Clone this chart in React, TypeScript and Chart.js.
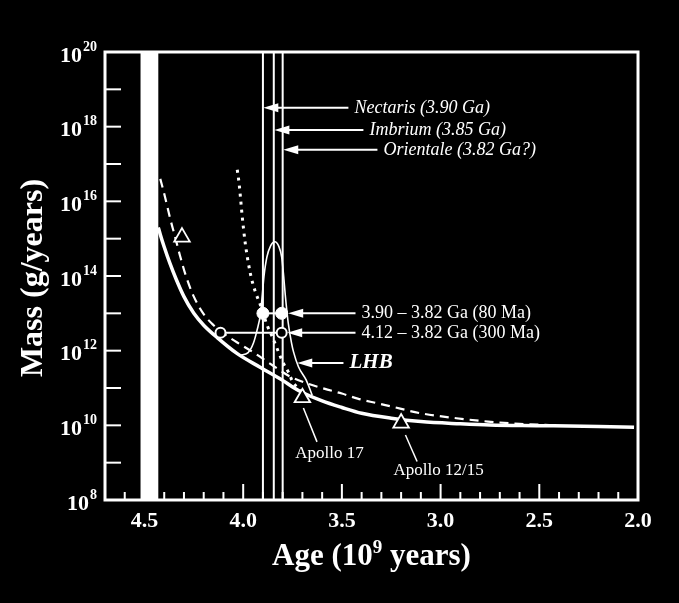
import { useEffect, useRef } from "react";
import { Chart, registerables } from "chart.js";

Chart.register(...registerables);

const W = 679;
const H = 603;
const SERIF = "'Liberation Serif', 'Times New Roman', serif";

// ---- data (age in 10^9 years, mass flux in g/year) ----
const solidAge = [4.43, 4.42, 4.4, 4.37, 4.34, 4.3, 4.25, 4.2, 4.13, 4.03, 3.91, 3.8, 3.75, 3.7, 3.6, 3.5, 3.4, 3.25, 3.1, 2.9, 2.75, 2.5, 2.2, 2.02];
const solidMass = [2.0e15, 1.3e15, 6.0e14, 2.1e14, 8.3e13, 2.8e13, 1.0e13, 4.8e12, 2.2e12, 8.3e11, 3.5e11, 1.6e11, 1.07e11, 7.6e10, 4.5e10, 3.0e10, 2.1e10, 1.55e10, 1.26e10, 1.1e10, 1.02e10, 9.8e9, 9.3e9, 8.9e9];

const dashedAge = [4.42, 4.4, 4.37, 4.35, 4.32, 4.29, 4.25, 4.2, 4.15, 4.1, 4.03, 3.95, 3.85, 3.76, 3.68, 3.59, 3.5, 3.42, 3.33, 3.25, 3.1, 2.92, 2.76, 2.6, 2.42];
const dashedMass = [4e16, 1.6e16, 3.5e15, 1.4e15, 3.5e14, 1e14, 2.8e13, 9.5e12, 4.8e12, 2.9e12, 1.66e12, 9.1e11, 4e11, 2e11, 1.35e11, 9.6e10, 7.1e10, 5.2e10, 4e10, 3.2e10, 2.1e10, 1.55e10, 1.26e10, 1.1e10, 1e10];

const dottedAge = [4.03, 4.02, 4.005, 3.99, 3.965, 3.94, 3.915, 3.88, 3.85, 3.82, 3.8, 3.77, 3.75, 3.72, 3.7];
const dottedMass = [7e16, 2.8e16, 4e15, 7.9e14, 1.26e14, 4e13, 1.8e13, 5e12, 2.2e12, 8.9e11, 5e11, 2.6e11, 1.5e11, 9.5e10, 7.6e10];

const peakAge = [4.015, 3.975, 3.948, 3.93, 3.912, 3.903, 3.895, 3.88, 3.86, 3.84, 3.82, 3.805, 3.795, 3.787, 3.772, 3.755, 3.745, 3.72, 3.68, 3.65];
const peakMass = [7.6e11, 8.9e11, 1.6e12, 3.5e12, 1e13, 3.2e13, 9.5e13, 3.2e14, 6.6e14, 8.3e14, 6.3e14, 3.2e14, 1e14, 3.2e13, 5.6e12, 1.6e12, 9.3e11, 3.7e11, 1.6e11, 6.3e10];

const filledAge = [3.9, 3.805];
const filledMass = [1e13, 1e13];
const openAge = [4.115, 3.805];
const openMass = [3e12, 3e12];
const triangleAge = [4.31, 3.7, 3.2];
const triangleMass = [1.1e15, 5.5e10, 1.15e10];

const bandAge = [4.52, 4.43];
const basinAge = [3.9, 3.845, 3.8];

// ---- axes ----
const xMin = 2.0;
const xMax = 4.7;
const yMin = 1e8;
const yMax = 1e20;
const xTickValues = [4.7, 4.6, 4.5, 4.4, 4.3, 4.2, 4.1, 4.0, 3.9, 3.8, 3.7, 3.6, 3.5, 3.4, 3.3, 3.2, 3.1, 3.0, 2.9, 2.8, 2.7, 2.6, 2.5, 2.4, 2.3, 2.2, 2.1];
const xLabelValues = [4.5, 4.0, 3.5, 3.0, 2.5, 2.0];
const xLabels = ["4.5", "4.0", "3.5", "3.0", "2.5", "2.0"];
const yTickExponents = [9, 10, 11, 12, 13, 14, 15, 16, 17, 18, 19];
const yLabelExponents = [8, 10, 12, 14, 16, 18, 20];
const yLabels = ["8", "10", "12", "14", "16", "18", "20"];

// ---- annotations ----
const arrowTexts = ["Nectaris (3.90 Ga)", "Imbrium (3.85 Ga)", "Orientale (3.82 Ga?)", "3.90 – 3.82 Ga (80 Ma)", "4.12 – 3.82 Ga (300 Ma)", "LHB"];
const arrowTipAge = [3.898, 3.842, 3.797, 3.772, 3.777, 3.726];
const arrowTailAge = [3.467, 3.391, 3.32, 3.431, 3.431, 3.492];
const arrowMass = [3.2e18, 8.1e17, 2.4e17, 1e13, 3e12, 4.7e11];
const arrowFonts = [
  `italic 18px ${SERIF}`,
  `italic 18px ${SERIF}`,
  `italic 18px ${SERIF}`,
  `18px ${SERIF}`,
  `18px ${SERIF}`,
  `italic bold 21px ${SERIF}`,
];

const apolloTexts = ["Apollo 17", "Apollo 12/15"];
const apolloLineFromAge = [3.695, 3.178];
const apolloLineFromMass = [2.9e10, 5.5e9];
const apolloLineToAge = [3.626, 3.119];
const apolloLineToMass = [3.6e9, 1.07e9];
const apolloTextAge = [3.563, 3.01];
const apolloTextMass = [1.8e9, 6.3e8];

const xTitleParts = ["Age (10", "9", " years)"];
const yTitle = "Mass (g/years)";

const pts = (xs: number[], ys: number[]) => xs.map((x, i) => ({ x, y: ys[i] }));

const overlay = {
  id: "overlay",
  beforeDraw(chart: any) {
    const ctx = chart.ctx as CanvasRenderingContext2D;
    ctx.save();
    ctx.fillStyle = "#000";
    ctx.fillRect(0, 0, chart.width, chart.height);
    ctx.restore();
  },
  beforeDatasetsDraw(chart: any) {
    const ctx = chart.ctx as CanvasRenderingContext2D;
    const a = chart.chartArea;
    const x = chart.scales.x;
    ctx.save();
    ctx.fillStyle = "#fff";
    const b0 = x.getPixelForValue(bandAge[0]);
    const b1 = x.getPixelForValue(bandAge[1]);
    ctx.fillRect(Math.min(b0, b1), a.top, Math.abs(b1 - b0), a.bottom - a.top);
    ctx.strokeStyle = "#fff";
    ctx.lineWidth = 2;
    basinAge.forEach((v) => {
      const px = x.getPixelForValue(v);
      ctx.beginPath();
      ctx.moveTo(px, a.top);
      ctx.lineTo(px, a.bottom);
      ctx.stroke();
    });
    ctx.restore();
  },
  afterDatasetsDraw(chart: any) {
    const ctx = chart.ctx as CanvasRenderingContext2D;
    const a = chart.chartArea;
    const x = chart.scales.x;
    const y = chart.scales.y;
    ctx.save();
    ctx.strokeStyle = "#fff";
    ctx.fillStyle = "#fff";

    // frame
    ctx.lineWidth = 3;
    ctx.strokeRect(a.left, a.top, a.right - a.left, a.bottom - a.top);

    // ticks
    ctx.lineWidth = 2;
    yTickExponents.forEach((e) => {
      const py = y.getPixelForValue(Math.pow(10, e));
      ctx.beginPath();
      ctx.moveTo(a.left, py);
      ctx.lineTo(a.left + 16, py);
      ctx.stroke();
    });
    xTickValues.forEach((v) => {
      const px = x.getPixelForValue(v);
      const major = Math.abs(v * 2 - Math.round(v * 2)) < 1e-6;
      ctx.beginPath();
      ctx.moveTo(px, a.bottom);
      ctx.lineTo(px, a.bottom - (major ? 16 : 8));
      ctx.stroke();
    });

    // x tick labels
    ctx.font = `bold 22px ${SERIF}`;
    ctx.textAlign = "center";
    ctx.textBaseline = "middle";
    xLabelValues.forEach((v, i) => {
      ctx.fillText(xLabels[i], x.getPixelForValue(v), a.bottom + 21);
    });

    // y tick labels: 10 with superscript
    ctx.textAlign = "left";
    yLabelExponents.forEach((e, i) => {
      const py = y.getPixelForValue(Math.pow(10, e));
      ctx.font = `bold 14px ${SERIF}`;
      const sw = ctx.measureText(yLabels[i]).width;
      ctx.font = `bold 22px ${SERIF}`;
      const bw = ctx.measureText("10").width;
      const right = a.left - 8;
      const start = right - sw - bw - 1;
      ctx.fillText("10", start, py + 4);
      ctx.font = `bold 14px ${SERIF}`;
      ctx.fillText(yLabels[i], start + bw + 1, py - 5);
    });

    // x title with superscript
    ctx.textBaseline = "alphabetic";
    ctx.font = `bold 31px ${SERIF}`;
    const w0 = ctx.measureText(xTitleParts[0]).width;
    const w2 = ctx.measureText(xTitleParts[2]).width;
    ctx.font = `bold 19px ${SERIF}`;
    const w1 = ctx.measureText(xTitleParts[1]).width;
    const total = w0 + w1 + w2;
    const cx = (a.left + a.right) / 2;
    let sx = cx - total / 2;
    const base = a.bottom + 65;
    ctx.font = `bold 31px ${SERIF}`;
    ctx.fillText(xTitleParts[0], sx, base);
    sx += w0;
    ctx.font = `bold 19px ${SERIF}`;
    ctx.fillText(xTitleParts[1], sx, base - 12);
    sx += w1;
    ctx.font = `bold 31px ${SERIF}`;
    ctx.fillText(xTitleParts[2], sx, base);

    // y title
    ctx.save();
    ctx.translate(42, (a.top + a.bottom) / 2 + 2);
    ctx.rotate(-Math.PI / 2);
    ctx.font = `bold 32px ${SERIF}`;
    ctx.textAlign = "center";
    ctx.fillText(yTitle, 0, 0);
    ctx.restore();

    // arrows with labels
    ctx.lineWidth = 2;
    arrowTexts.forEach((t, i) => {
      const tip = x.getPixelForValue(arrowTipAge[i]);
      const tail = x.getPixelForValue(arrowTailAge[i]);
      const py = y.getPixelForValue(arrowMass[i]);
      ctx.beginPath();
      ctx.moveTo(tail, py);
      ctx.lineTo(tip + 10, py);
      ctx.stroke();
      ctx.beginPath();
      ctx.moveTo(tip, py);
      ctx.lineTo(tip + 15, py - 4.5);
      ctx.lineTo(tip + 15, py + 4.5);
      ctx.closePath();
      ctx.fill();
      ctx.font = arrowFonts[i];
      ctx.textAlign = "left";
      ctx.textBaseline = "middle";
      ctx.fillText(t, tail + 6, py);
    });

    // Apollo labels
    ctx.lineWidth = 1.5;
    apolloTexts.forEach((t, i) => {
      ctx.beginPath();
      ctx.moveTo(x.getPixelForValue(apolloLineFromAge[i]), y.getPixelForValue(apolloLineFromMass[i]));
      ctx.lineTo(x.getPixelForValue(apolloLineToAge[i]), y.getPixelForValue(apolloLineToMass[i]));
      ctx.stroke();
      ctx.font = `17px ${SERIF}`;
      ctx.textAlign = "center";
      ctx.textBaseline = "middle";
      ctx.fillText(t, x.getPixelForValue(apolloTextAge[i]), y.getPixelForValue(apolloTextMass[i]));
    });

    ctx.restore();
  },
};

export default function App() {
  const ref = useRef<HTMLCanvasElement>(null);
  useEffect(() => {
    document.body.style.margin = "0";
    document.body.style.background = "#000";
    const canvas = ref.current;
    if (!canvas) return;
    const curve = {
      borderColor: "#fff",
      pointRadius: 0,
      fill: false,
      cubicInterpolationMode: "monotone" as const,
    };
    const chart = new Chart(canvas, {
      type: "line",
      data: {
        datasets: [
          {
            label: "triangles",
            data: pts(triangleAge, triangleMass),
            showLine: false,
            pointStyle: "triangle",
            pointRadius: 9,
            pointBackgroundColor: "#000",
            pointBorderColor: "#fff",
            pointBorderWidth: 1.8,
          },
          {
            label: "filled",
            data: pts(filledAge, filledMass),
            borderColor: "#fff",
            borderWidth: 2,
            pointRadius: 6,
            pointBackgroundColor: "#fff",
            pointBorderColor: "#fff",
            pointBorderWidth: 1,
          },
          {
            label: "open",
            data: pts(openAge, openMass),
            borderColor: "#fff",
            borderWidth: 2,
            pointRadius: 5,
            pointBackgroundColor: "#000",
            pointBorderColor: "#fff",
            pointBorderWidth: 2,
          },
          { ...curve, label: "solid", data: pts(solidAge, solidMass), borderWidth: 3.5 },
          { ...curve, label: "dashed", data: pts(dashedAge, dashedMass), borderWidth: 2.2, borderDash: [9, 6] },
          { ...curve, label: "dotted", data: pts(dottedAge, dottedMass), borderWidth: 3, borderDash: [3, 5] },
          { ...curve, label: "peak", data: pts(peakAge, peakMass), borderWidth: 1.6 },
        ],
      },
      options: {
        responsive: false,
        animation: false,
        events: [],
        layout: { padding: { left: 105, top: 52, right: 41, bottom: 103 } },
        plugins: { legend: { display: false }, tooltip: { enabled: false } },
        scales: {
          x: { type: "linear", min: xMin, max: xMax, reverse: true, display: false },
          y: { type: "logarithmic", min: yMin, max: yMax, display: false },
        },
      },
      plugins: [overlay],
    });
    return () => chart.destroy();
  }, []);
  return (
    <div style={{ position: "absolute", left: 0, top: 0, width: W, height: H, background: "#000" }}>
      <canvas ref={ref} width={W} height={H} style={{ display: "block", width: W, height: H }} />
    </div>
  );
}
